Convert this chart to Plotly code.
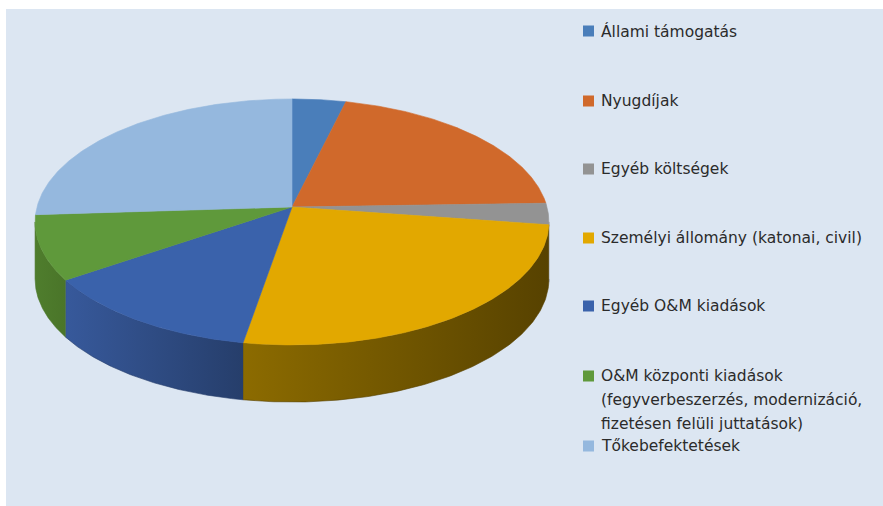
import numpy as np
import plotly.graph_objects as go

# ---- data ----
categories = [
    "Állami támogatás",
    "Nyugdíjak",
    "Egyéb költségek",
    "Személyi állomány (katonai, civil)",
    "Egyéb O&M kiadások",
    "O&M központi kiadások\n(fegyverbeszerzés, modernizáció,\nfizetésen felüli juttatások)",
    "Tőkebefektetések",
]
values = [3.8, 20.7, 2.8, 25.4, 12.8, 8.5, 26.0]

# ---- style ----
top_colors = ["#4a7eba", "#d0692b", "#939393", "#e2a800", "#3a62ab", "#5f993b", "#95b8de"]
wall_colors = [
    ("#3d6899", "#2f5078"),
    ("#9a4e1f", "#7a3e18"),
    ("#6e6e6e", "#5a5a5a"),
    ("#8c6b00", "#574200"),
    ("#37599b", "#263e6b"),
    ("#4f7d2d", "#4a7529"),
    ("#7a97b8", "#6a86a6"),
]
BG = "#dce6f2"
W, H = 883, 506

# projection parameters (pixel space)
cx, cy = 292, 207      # apex of the pie
sx = 255               # horizontal scale
ay = 121.2             # vertical scale
kp = 0.122             # perspective factor
thick = 57             # wall thickness


def proj(theta_deg):
    t = np.radians(theta_deg)
    x = np.sin(t)
    y = np.cos(t)
    w = 1 + kp * y
    return cx + sx * x / w, cy - ay * y / w


# silhouette extremes (visible wall range)
th = np.linspace(0, 360, 3601)
Xs, _ = proj(th)
th_R = th[np.argmax(Xs)]
th_L = th[np.argmin(Xs)]

total = sum(values)
bounds = np.concatenate([[0], np.cumsum(values) / total * 360])

fig = go.Figure()

# side walls
for i in range(len(values)):
    a0, a1 = bounds[i], bounds[i + 1]
    lo, hi = max(a0, th_R), min(a1, th_L)
    if hi <= lo:
        continue
    t = np.linspace(lo, hi, 120)
    X, Y = proj(t)
    px = np.concatenate([X, X[::-1]])
    py = np.concatenate([Y, (Y + thick)[::-1]])
    c0, c1 = wall_colors[i]
    fig.add_trace(go.Scatter(
        x=px, y=py, mode="lines", fill="toself",
        line=dict(width=0.6, color=c1),
        fillgradient=dict(type="horizontal", colorscale=[[0, c0], [1, c1]]),
        hoverinfo="skip", showlegend=False))

# top faces
for i in range(len(values)):
    a0, a1 = bounds[i], bounds[i + 1]
    t = np.linspace(a0, a1, max(10, int((a1 - a0) * 2)))
    X, Y = proj(t)
    px = np.concatenate([[cx], X, [cx]])
    py = np.concatenate([[cy], Y, [cy]])
    fig.add_trace(go.Scatter(
        x=px, y=py, mode="lines", fill="toself", fillcolor=top_colors[i],
        line=dict(width=0.6, color=top_colors[i]),
        hoverinfo="skip", showlegend=False))

# legend
legend_y = [31, 101, 169, 238, 306, 376, 446]
line_gap = 24
leg_x_marker = 588.5
leg_x_text = 599
fig.add_trace(go.Scatter(
    x=[leg_x_marker] * len(categories), y=legend_y, mode="markers",
    marker=dict(symbol="square", size=11, color=top_colors, line=dict(width=0)),
    hoverinfo="skip", showlegend=False))

annotations = []
for i, lab in enumerate(categories):
    for j, ln in enumerate(lab.split("\n")):
        annotations.append(dict(
            x=leg_x_text, y=legend_y[i] + j * line_gap, xref="x", yref="y",
            text=ln, showarrow=False, xanchor="left", yanchor="middle",
            font=dict(family="DejaVu Sans", size=15.5, color="#2b2b2b")))

fig.update_layout(
    width=W, height=H,
    margin=dict(l=0, r=0, t=0, b=0),
    paper_bgcolor="white", plot_bgcolor="white",
    xaxis=dict(range=[0, W], visible=False, fixedrange=True),
    yaxis=dict(range=[H, 0], visible=False, fixedrange=True),
    shapes=[dict(type="rect", xref="x", yref="y", x0=6, y0=9, x1=W, y1=H,
                 fillcolor=BG, line=dict(width=0), layer="below")],
    annotations=annotations,
    showlegend=False,
)

fig.write_html(
    "out.html",
    config={"displayModeBar": False, "staticPlot": True},
    post_script="document.body.style.margin='0px';document.body.style.overflow='hidden';",
)
